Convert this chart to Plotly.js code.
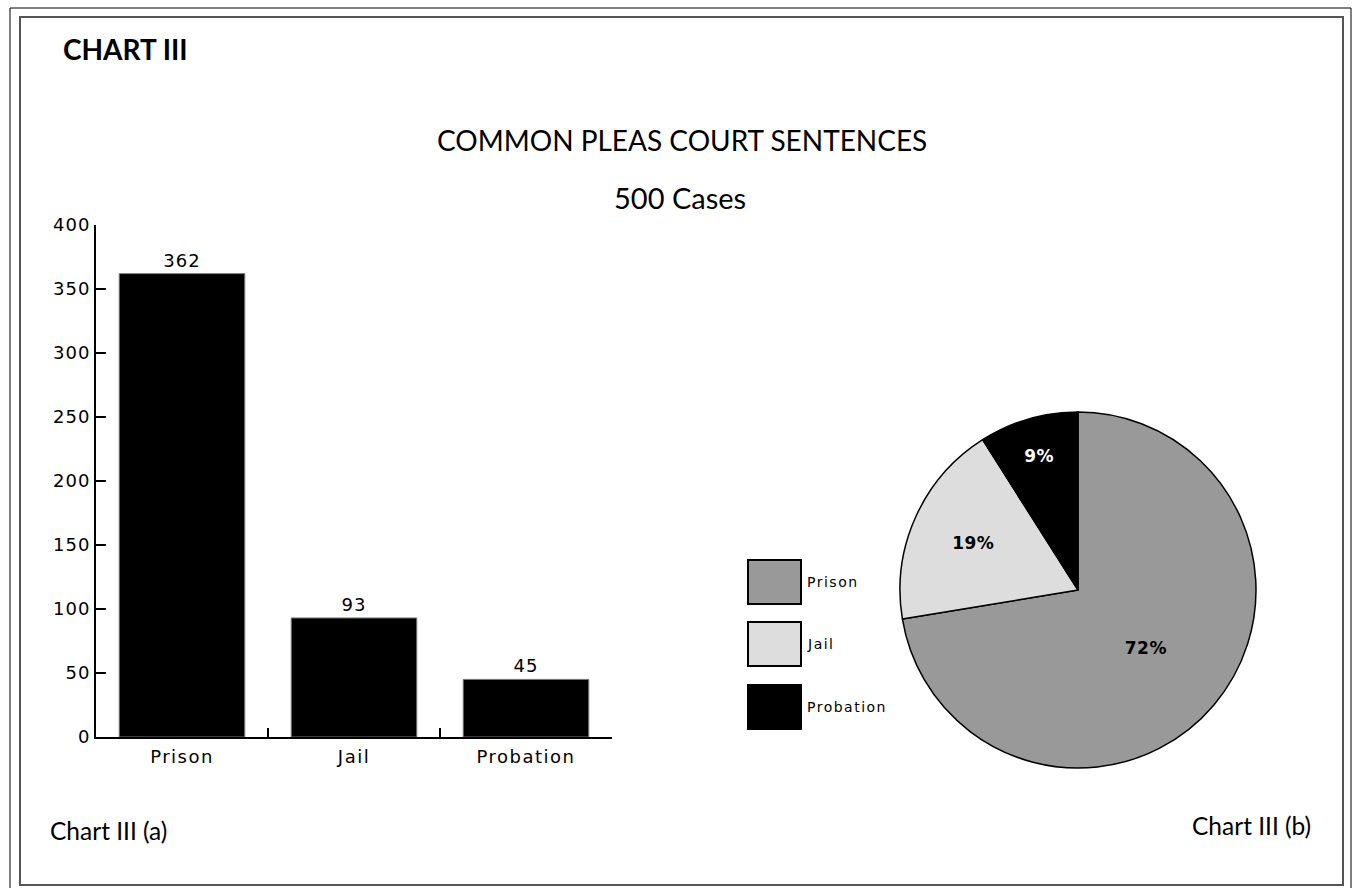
<!DOCTYPE html>
<html>
<head>
<meta charset="utf-8">
<script src="https://cdn.plot.ly/plotly-3.0.1.min.js"></script>
<style>
html,body{margin:0;padding:0;background:#fff;}
#chart{width:1353px;height:888px;}
text[style*="DejaVu"]{letter-spacing:1px;}
.xtick text{letter-spacing:1.5px !important;}
.slicetext{letter-spacing:0.5px !important;}
.annotation-text[style*="DejaVu"]{letter-spacing:1.5px !important;}
</style>
</head>
<body>
<div id="chart"></div>
<script>
const categories = ["Prison", "Jail", "Probation"];
const cases = [362, 93, 45];
const sliceColors = ["#999999", "#dddddd", "#000000"];
const pctTextColors = ["#000000", "#000000", "#ffffff"];
const yTicks = [0, 50, 100, 150, 200, 250, 300, 350, 400];

const W = 1353, H = 888;
const px = x => x / W;
const py = y => 1 - y / H;

const pixelFont = "DejaVu Sans, sans-serif";
const titleFont = "Lato, Open Sans, sans-serif";

const barTrace = {
  type: "bar",
  x: categories,
  y: cases,
  text: cases.map(String),
  textposition: "outside",
  cliponaxis: false,
  textfont: {family: pixelFont, size: 18, color: "#000"},
  marker: {color: "#000000", line: {color: "#777777", width: 1}},
  xaxis: "x", yaxis: "y",
  showlegend: false,
  hoverinfo: "skip"
};

const pieTrace = {
  type: "pie",
  labels: categories,
  values: cases,
  sort: false,
  direction: "clockwise",
  rotation: 0,
  marker: {colors: sliceColors, line: {color: "#000", width: 1.5}},
  texttemplate: "%{percent:.0%}",
  textposition: "inside",
  insidetextorientation: "horizontal",
  textfont: {family: "DejaVu Sans, sans-serif", size: 17, color: pctTextColors, weight: "bold"},
  domain: {x: [px(900), px(1256)], y: [py(768), py(412)]},
  showlegend: false,
  hoverinfo: "skip"
};

const shapes = [
  {type: "rect", xref: "paper", yref: "paper", x0: px(10), x1: px(1351), y0: py(895), y1: py(8), line: {color: "#000", width: 1}},
  {type: "rect", xref: "paper", yref: "paper", x0: px(20), x1: px(1343), y0: py(885), y1: py(17), line: {color: "#555", width: 2}}
];
const annotations = [
  {text: "<b>CHART III</b>", x: px(61), y: py(49), xanchor: "left", yanchor: "middle", font: {family: titleFont, size: 28, color: "#000"}},
  {text: "COMMON PLEAS COURT SENTENCES", x: px(682), y: py(140), xanchor: "center", yanchor: "middle", font: {family: titleFont, size: 28, color: "#000"}},
  {text: "500 Cases", x: px(680), y: py(197), xanchor: "center", yanchor: "middle", font: {family: titleFont, size: 29, color: "#000"}},
  {text: "Chart III (a)", x: px(48), y: py(830), xanchor: "left", yanchor: "middle", font: {family: titleFont, size: 24.5, color: "#000"}},
  {text: "Chart III (b)", x: px(1313), y: py(825), xanchor: "right", yanchor: "middle", font: {family: titleFont, size: 24.5, color: "#000"}}
];
// legend built from categories / colours
const legTop = [560, 622, 685];
categories.forEach((c, i) => {
  shapes.push({type: "rect", xref: "paper", yref: "paper",
    x0: px(748), x1: px(801), y0: py(legTop[i] + 44), y1: py(legTop[i]),
    fillcolor: sliceColors[i], line: {color: "#000", width: 2}});
  annotations.push({text: c, x: px(805), y: py(legTop[i] + 22), xanchor: "left", yanchor: "middle",
    font: {family: pixelFont, size: 14, color: "#000"}});
});
annotations.forEach(a => { a.xref = "paper"; a.yref = "paper"; a.showarrow = false; });

const layout = {
  width: W, height: H, autosize: false,
  margin: {l: 0, r: 0, t: 0, b: 0},
  paper_bgcolor: "#fff", plot_bgcolor: "#fff",
  bargap: 0.27,
  xaxis: {
    domain: [px(96), px(612)],
    type: "category",
    showline: true, linecolor: "#000", linewidth: 2,
    ticks: "inside", tickson: "boundaries", ticklen: 9, tickwidth: 2, tickcolor: "#000",
    tickfont: {family: pixelFont, size: 18, color: "#000"},
    ticklabelstandoff: 2,
    showgrid: false, zeroline: false, fixedrange: true
  },
  yaxis: {
    domain: [py(737), py(225)],
    range: [0, 400],
    tickvals: yTicks,
    ticktext: yTicks.map(String),
    showline: true, linecolor: "#000", linewidth: 2,
    ticks: "inside", ticklen: 10, tickwidth: 2, tickcolor: "#000",
    tickfont: {family: pixelFont, size: 18, color: "#000"},
    showgrid: false, zeroline: false, fixedrange: true
  },
  shapes: shapes,
  annotations: annotations,
  hovermode: false
};

Plotly.newPlot("chart", [barTrace, pieTrace], layout, {displayModeBar: false, staticPlot: true});
</script>
</body>
</html>
